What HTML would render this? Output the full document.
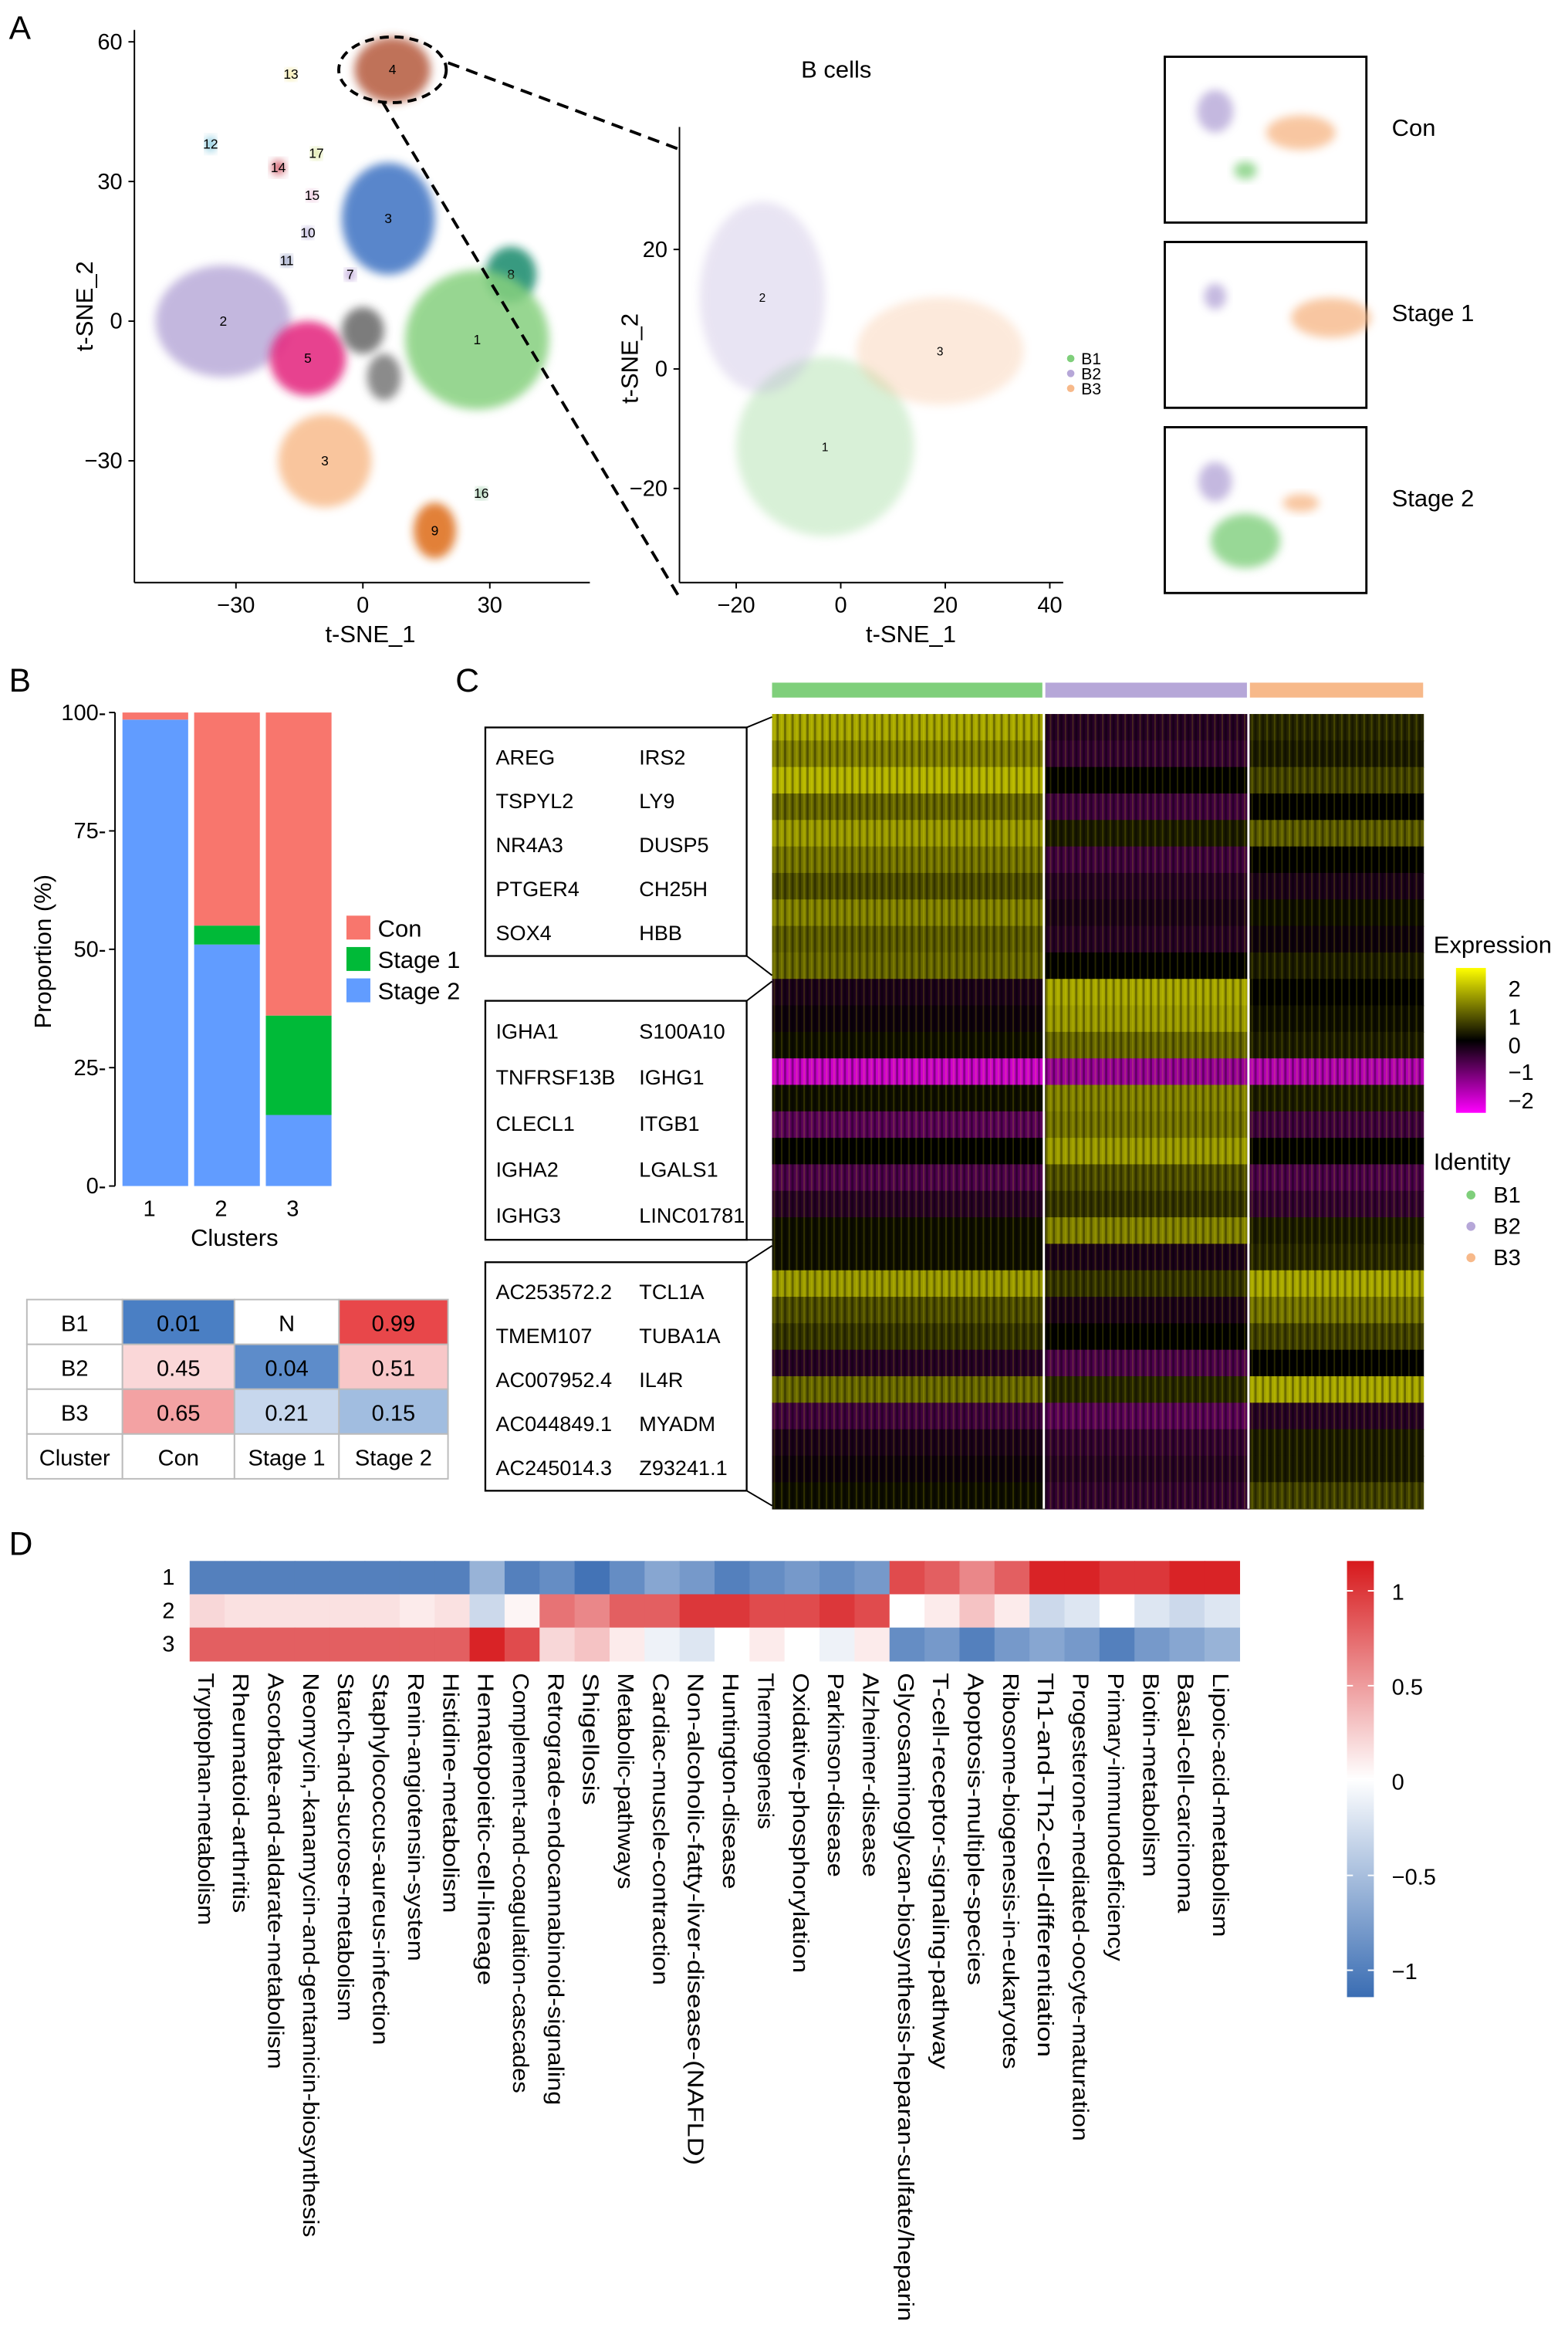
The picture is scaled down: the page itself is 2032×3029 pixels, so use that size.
<!DOCTYPE html>
<html><head><meta charset="utf-8">
<style>
html,body{margin:0;padding:0;background:#fff;}
svg{display:block;font-family:"Liberation Sans",sans-serif;}
</style></head>
<body>
<svg id="fig" width="2032" height="3029" viewBox="0 0 1050 1565.2" xmlns="http://www.w3.org/2000/svg">
<defs>
<filter id="blur" x="-30%" y="-30%" width="160%" height="160%"><feGaussianBlur stdDeviation="3"/></filter>
<pattern id="stripes" width="5" height="10" patternUnits="userSpaceOnUse">
<rect x="0" y="0" width="1.5" height="10" fill="#000" opacity="0.35"/>
<rect x="3" y="0" width="1" height="10" fill="#ff0" opacity="0.15"/>
</pattern>
<linearGradient id="exprGrad" x1="0" y1="0" x2="0" y2="1">
<stop offset="0" stop-color="#ffff00"/><stop offset="0.25" stop-color="#808000"/><stop offset="0.5" stop-color="#000"/><stop offset="0.75" stop-color="#800080"/><stop offset="1" stop-color="#ff00ff"/>
</linearGradient>
<linearGradient id="dGrad" x1="0" y1="0" x2="0" y2="1">
<stop offset="0" stop-color="#d7191c"/><stop offset="0.5" stop-color="#ffffff"/><stop offset="1" stop-color="#3a6db3"/>
</linearGradient>
</defs>
<g id="root"></g>
</svg>
<script>
// ---------- DATA ----------
const clusterIds = ['4','3','8','1','2','5','g1','g2','3b','9','13','12','14','17','15','10','11','7','16'];
const clusterX = [7,6,35,27,-33,-13,0,5,-9,17,-17,-36,-20,-11,-12,-13,-18,-3,28];
const clusterY = [54,22,10,-4,0,-8,-2,-12,-30,-45,53,38,33,36,27,19,13,10,-37];
const clusterLabel = ['4','3','8','1','2','5','','','3','9','13','12','14','17','15','10','11','7','16'];
const clusterColor = ['#b55a3c','#3d72c2','#17896a','#86d07e','#b9abd9','#e3237c','#666666','#777777','#f8bc8c','#dd6a12','#e8d23a','#34a6c9','#c42a3c','#b8cf3a','#d884b6','#7766bb','#2b3d8c','#7c4bb5','#3e9a55'];
const clusterRx = [9,11,6,17,16,9,5,4,11,5,1,1,1.5,1,1,1,1,1,1];
const clusterRy = [7,12,6,15,12,8,5,5,10,6,1,1.5,1.5,1,1,1,1,1,1];
const bNames = ['B1','B2','B3'];
const bX = [-3,-15,19];
const bY = [-13,12,3];
const bRx = [17,12,16];
const bRy = [15,16,9];
const bColor = ['#7fcf7b','#b6a7d8','#f7b98a'];
const barCats = ['1','2','3'];
const stage2Vals = [98.5,51,15];
const stage1Vals = [0,4,21];
const conVals = [1.5,45,64];
const tableRows = ['B1','B2','B3'];
const tableCols = ['Con','Stage 1','Stage 2'];
const tableVals = [[0.01,null,0.99],[0.45,0.04,0.51],[0.65,0.21,0.15]];
const cB1 = [1.3,1.0,1.4,0.8,1.2,0.9,0.6,1.0,0.7,0.8,-0.2,-0.1,0.1,-1.6,0.1,-0.7,0,-0.6,-0.3,0.1,0.1,1.2,0.6,0.4,-0.3,0.8,-0.5,-0.2,-0.1,0.1];
const cB2 = [-0.3,-0.4,0,-0.5,0.2,-0.5,-0.3,-0.2,-0.3,0,1.3,1.2,0.8,-1.2,1,0.9,1.2,0.6,0.4,1.0,-0.2,0.4,-0.2,0,-0.6,0.3,-0.7,-0.4,-0.3,-0.4];
const cB3 = [0.3,0.2,0.5,0,0.7,0,-0.2,0.1,-0.1,0.2,0,0.1,0.2,-1.4,0.2,-0.5,0,-0.6,-0.4,0.2,0.3,1.3,0.9,0.5,0,1.3,-0.3,0.2,0.2,0.5];
const geneBoxes = [
 [['AREG','IRS2'],['TSPYL2','LY9'],['NR4A3','DUSP5'],['PTGER4','CH25H'],['SOX4','HBB']],
 [['IGHA1','S100A10'],['TNFRSF13B','IGHG1'],['CLECL1','ITGB1'],['IGHA2','LGALS1'],['IGHG3','LINC01781']],
 [['AC253572.2','TCL1A'],['TMEM107','TUBA1A'],['AC007952.4','IL4R'],['AC044849.1','MYADM'],['AC245014.3','Z93241.1']]
];
const pathways = ['Tryptophan-metabolism','Rheumatoid-arthritis','Ascorbate-and-aldarate-metabolism','Neomycin,-kanamycin-and-gentamicin-biosynthesis','Starch-and-sucrose-metabolism','Staphylococcus-aureus-infection','Renin-angiotensin-system','Histidine-metabolism','Hematopoietic-cell-lineage','Complement-and-coagulation-cascades','Retrograde-endocannabinoid-signaling','Shigellosis','Metabolic-pathways','Cardiac-muscle-contraction','Non-alcoholic-fatty-liver-disease-(NAFLD)','Huntington-disease','Thermogenesis','Oxidative-phosphorylation','Parkinson-disease','Alzheimer-disease','Glycosaminoglycan-biosynthesis-heparan-sulfate/heparin','T-cell-receptor-signaling-pathway','Apoptosis-multiple-species','Ribosome-biogenesis-in-eukaryotes','Th1-and-Th2-cell-differentiation','Progesterone-mediated-oocyte-maturation','Primary-immunodeficiency','Biotin-metabolism','Basal-cell-carcinoma','Lipoic-acid-metabolism'];
const dRow1 = [-1,-1,-1,-1,-1,-1,-1,-1,-0.6,-1,-0.9,-1.1,-0.9,-0.7,-0.8,-1,-0.9,-0.8,-0.9,-0.8,0.9,0.8,0.6,0.8,1.1,1.1,1,1,1.1,1.1];
const dRow2 = [0.2,0.15,0.15,0.15,0.15,0.15,0.1,0.15,-0.3,0.05,0.7,0.6,0.8,0.8,1,1,0.9,0.9,1,0.9,0,0.1,0.3,0.1,-0.3,-0.2,0,-0.2,-0.3,-0.2];
const dRow3 = [0.8,0.8,0.8,0.8,0.8,0.8,0.8,0.8,1.1,0.9,0.2,0.3,0.1,-0.1,-0.2,0,0.1,0,-0.1,0.1,-0.9,-0.8,-1,-0.8,-0.7,-0.8,-1,-0.8,-0.7,-0.6];
const dTicks = [1,0.5,0,-0.5,-1];

// ---------- HELPERS ----------
const NS='http://www.w3.org/2000/svg';
const root=document.getElementById('root');
function mk(tag,attrs,parent,text){const e=document.createElementNS(NS,tag);for(const k in attrs)e.setAttribute(k,attrs[k]);if(text!==undefined)e.textContent=text;(parent||root).appendChild(e);return e;}
function txt(x,y,s,size,anchor,parent,extra){return mk('text',Object.assign({x:x,y:y,'font-size':size,'text-anchor':anchor||'start',fill:'#000'},extra||{}),parent,s);}
function lerp(a,b,t){return a+(b-a)*t;}
function mixHex(c1,c2,t){t=Math.max(0,Math.min(1,t));const p=h=>[1,3,5].map(i=>parseInt(h.substr(i,2),16));const a=p(c1),b=p(c2);return 'rgb('+a.map((v,i)=>Math.round(lerp(v,b[i],t))).join(',')+')';}
function exprColor(v){v=Math.max(-2,Math.min(2,v));if(v>=1)return mixHex('#808000','#ffff00',v-1);if(v>=0)return mixHex('#000000','#808000',v);if(v>=-1)return mixHex('#000000','#800080',-v);return mixHex('#800080','#ff00ff',-v-1);}
function divColor(v){v=Math.max(-1.15,Math.min(1.15,v))/1.15;return v>=0?mixHex('#ffffff','#d7191c',v):mixHex('#ffffff','#3a6db3',-v);}

// ---------- PANEL A ----------
let g=mk('g',{},root);
txt(6,26,'A',22,'start',g);
const ax=v=>lerp(158,328,(v+30)/60), ay=v=>lerp(215,28,v/60);
mk('line',{x1:90,y1:20,x2:90,y2:390,stroke:'#000','stroke-width':1},g);
mk('line',{x1:90,y1:390,x2:395,y2:390,stroke:'#000','stroke-width':1},g);
[60,30,0,-30].forEach(v=>{mk('line',{x1:86,y1:ay(v),x2:90,y2:ay(v),stroke:'#000'},g);txt(82,ay(v)+5,v===-30?'\u221230':String(v),15,'end',g);});
[-30,0,30].forEach(v=>{mk('line',{x1:ax(v),y1:390,x2:ax(v),y2:394,stroke:'#000'},g);txt(ax(v),410,v===-30?'\u221230':String(v),15,'middle',g);});
txt(248,430,'t-SNE_1',16,'middle',g);
txt(62,205,'t-SNE_2',16,'middle',g,{transform:'rotate(-90 62 205)'});
const sx=(ax(30)-ax(0))/30, sy=(ay(0)-ay(30))/30;
clusterIds.forEach((id,i)=>{
 const e=mk('ellipse',{cx:ax(clusterX[i]),cy:ay(clusterY[i]),rx:clusterRx[i]*sx,ry:clusterRy[i]*sy,fill:clusterColor[i],opacity:0.85,filter:'url(#blur)'},g);
 
 
 if(clusterLabel[i])txt(ax(clusterX[i]),ay(clusterY[i])+3,clusterLabel[i],9,'middle',g);
});
mk('ellipse',{cx:ax(7),cy:ay(54),rx:36,ry:22,fill:'none',stroke:'#000','stroke-width':2,'stroke-dasharray':'6 4'},g);
mk('line',{x1:300,y1:42,x2:455,y2:100,stroke:'#000','stroke-width':2,'stroke-dasharray':'8 5'},g);
mk('line',{x1:256,y1:68,x2:455,y2:400,stroke:'#000','stroke-width':2,'stroke-dasharray':'8 5'},g);
const bx=v=>lerp(563,633,v/20), by=v=>lerp(247,167,v/20);
txt(560,52,'B cells',16,'middle',g);
mk('line',{x1:455,y1:85,x2:455,y2:390,stroke:'#000'},g);
mk('line',{x1:455,y1:390,x2:712,y2:390,stroke:'#000'},g);
[20,0,-20].forEach(v=>{mk('line',{x1:451,y1:by(v),x2:455,y2:by(v),stroke:'#000'},g);txt(447,by(v)+5,v<0?'\u221220':String(v),15,'end',g);});
[-20,0,20,40].forEach(v=>{mk('line',{x1:bx(v),y1:390,x2:bx(v),y2:394,stroke:'#000'},g);txt(bx(v),410,v<0?'\u221220':String(v),15,'middle',g);});
txt(610,430,'t-SNE_1',16,'middle',g);
txt(427,240,'t-SNE_2',16,'middle',g,{transform:'rotate(-90 427 240)'});
const bsx=(bx(20)-bx(0))/20, bsy=(by(0)-by(20))/20;
bNames.forEach((n,i)=>{
 const e=mk('ellipse',{cx:bx(bX[i]),cy:by(bY[i]),rx:bRx[i]*bsx,ry:bRy[i]*bsy,fill:bColor[i],opacity:0.3,filter:'url(#blur)'},g);
 
 
 txt(bx(bX[i]),by(bY[i])+3,String(i+1),8,'middle',g);
 mk('circle',{cx:717,cy:240+i*10,r:2.5,fill:bColor[i]},g);
 txt(724,244+i*10,n,11,'start',g);
});
const condNames=['Con','Stage 1','Stage 2'];
const condBoxY=[38,162,286];
const condB1=[0.02,0,0.6],condB2=[0.3,0.08,0.25],condB3=[0.68,0.92,0.15];
condNames.forEach((c,i)=>{
 const r=mk('rect',{x:780,y:condBoxY[i],width:135,height:111,fill:'#fff',stroke:'#000','stroke-width':1.5},g);
 
 
 const bxx=v=>lerp(780,915,(v+35)/80), byy=v=>lerp(condBoxY[i]+111,condBoxY[i],(v+35)/70);
 bNames.forEach((n,k)=>{
   const w=[condB1,condB2,condB3][k][i];
   if(w<=0)return;
   const rx=bRx[k]*1.7*Math.sqrt(w+0.05),ry=bRy[k]*1.5*Math.sqrt(w+0.05);
   mk('ellipse',{cx:bxx(bX[k]+(k===2&&i===1?12:0)),cy:byy(bY[k]),rx:rx,ry:ry,fill:bColor[k],opacity:0.8,filter:'url(#blur)'},g);
 });
 txt(932,condBoxY[i]+53,c,16,'start',g);
});

// ---------- PANEL B ----------
g=mk('g',{},root);
txt(6,463,'B',22,'start',g);
const py=v=>lerp(794,477,v/100);
const barX=[82,130,178],barW=44;
mk('line',{x1:77,y1:477,x2:77,y2:794,stroke:'#000'},g);
[100,75,50,25,0].forEach(v=>{mk('line',{x1:73,y1:py(v),x2:77,y2:py(v),stroke:'#000'},g);txt(71,py(v)+5,v+'-',15,'end',g);});
barCats.forEach((c,i)=>{
 let base=0;
 [[stage2Vals,'#619cff','stage-2'],[stage1Vals,'#00ba38','stage-1'],[conVals,'#f8766d','con']].forEach(s=>{
  const v=s[0][i];
  const r=mk('rect',{x:barX[i],y:py(base+v),width:barW,height:py(base)-py(base+v),fill:s[1]},g);
  
  
  base+=v;
 });
 txt(barX[i]+barW/2-4,814,c,15,'middle',g);
});
txt(157,834,'Clusters',16,'middle',g);
txt(34,637,'Proportion (%)',16,'middle',g,{transform:'rotate(-90 34 637)'});
[['Con','#f8766d'],['Stage 1','#00ba38'],['Stage 2','#619cff']].forEach((l,i)=>{
 const r=mk('rect',{x:232,y:613+i*21,width:16,height:16,fill:l[1]},g);
 
 
 txt(253,627+i*21,l[0],16,'start',g);
});
const colX=[18,82,157,227,300];
function tCol(v){if(v===null)return '#ffffff';return v>=0.3?mixHex('#ffffff','#e8474a',(v-0.3)/0.69):mixHex('#ffffff','#4a7fc4',(0.3-v)/0.29);}
tableRows.forEach((rname,ri)=>{
 const y=870+ri*30;
 mk('rect',{x:18,y:y,width:64,height:30,fill:'#fff',stroke:'#bbb'},g);
 txt(50,y+21,rname,15,'middle',g);
 tableVals[ri].forEach((v,ci)=>{
  const r=mk('rect',{x:colX[ci+1],y:y,width:colX[ci+2]-colX[ci+1],height:30,fill:tCol(v),stroke:'#bbb'},g);
  
  
  txt((colX[ci+1]+colX[ci+2])/2,y+21,v===null?'N':v.toFixed(2),15,'middle',g);
 });
});
mk('rect',{x:18,y:960,width:64,height:30,fill:'#fff',stroke:'#bbb'},g);
txt(50,981,'Cluster',15,'middle',g);
tableCols.forEach((c,ci)=>{mk('rect',{x:colX[ci+1],y:960,width:colX[ci+2]-colX[ci+1],height:30,fill:'#fff',stroke:'#bbb'},g);txt((colX[ci+1]+colX[ci+2])/2,981,c,15,'middle',g);});

// ---------- PANEL C ----------
g=mk('g',{},root);
txt(305,463,'C',22,'start',g);
const grpX=[517,700,837,953];
bColor.forEach((c,i)=>{const r=mk('rect',{x:grpX[i],y:457,width:grpX[i+1]-grpX[i]-(i<2?2:0),height:10,fill:c},g);});
const hTop=478,hBot=1010,rowH=(hBot-hTop)/cB1.length;
cB1.forEach((v,ri)=>{
 [cB1,cB2,cB3].forEach((arr,gi)=>{
  const r=mk('rect',{x:grpX[gi],y:hTop+ri*rowH,width:grpX[gi+1]-grpX[gi]+0.5,height:rowH+0.5,fill:exprColor(arr[ri])},g);
  
  
 });
});
mk('rect',{x:517,y:hTop,width:436,height:hBot-hTop,fill:'url(#stripes)'},g);
mk('line',{x1:699,y1:hTop,x2:699,y2:hBot,stroke:'#fff','stroke-width':1.5},g);
mk('line',{x1:836,y1:hTop,x2:836,y2:hBot,stroke:'#fff','stroke-width':1.5},g);
const boxY=[[487,640],[670,830],[845,998]];
const blkY=[[478,655],[655,832],[832,1010]];
geneBoxes.forEach((b,bi)=>{
 const r=mk('rect',{x:325,y:boxY[bi][0],width:175,height:boxY[bi][1]-boxY[bi][0],fill:'#fff',stroke:'#000','stroke-width':1.2},g);
 
 
 mk('polyline',{points:`500,${boxY[bi][0]} 517,${blkY[bi][0]+2}`,fill:'none',stroke:'#000'},g);
 mk('polyline',{points:`500,${boxY[bi][1]} 517,${blkY[bi][1]-2}`,fill:'none',stroke:'#000'},g);
 const step=(boxY[bi][1]-boxY[bi][0])/5.2;
 b.forEach((pr,k)=>{const y=boxY[bi][0]+step*(k+0.5)+10;txt(332,y,pr[0],14,'start',g);txt(428,y,pr[1],14,'start',g);});
});
txt(960,638,'Expression',16,'start',g);
mk('rect',{x:975,y:648,width:20,height:97,fill:'url(#exprGrad)'},g);
[['2',662],['1',681],['0',700],['\u22121',718],['\u22122',737]].forEach(t=>{txt(1010,t[1]+5,t[0],15,'start',g);});
txt(960,783,'Identity',16,'start',g);
bNames.forEach((n,i)=>{mk('circle',{cx:985,cy:800+i*21,r:3,fill:bColor[i]},g);txt(1000,805+i*21,n,15,'start',g);});

// ---------- PANEL D ----------
g=mk('g',{},root);
txt(6,1041,'D',22,'start',g);
const dx0=127,dx1=830,cw=(dx1-dx0)/pathways.length,dTop=1045,rh=22.3;
[dRow1,dRow2,dRow3].forEach((row,ri)=>{
 txt(117,dTop+ri*rh+16,String(ri+1),15,'end',g);
 row.forEach((v,ci)=>{
  const r=mk('rect',{x:dx0+ci*cw,y:dTop+ri*rh,width:cw+0.4,height:rh+0.4,fill:divColor(v)},g);
  
  
 });
});
pathways.forEach((p,ci)=>{
 const x=dx0+(ci+0.5)*cw-6, y=1120;
 txt(x,y,p,15,'start',g,{transform:`rotate(90 ${x} ${y})`,textLength:(p.length*7.05*1.14).toFixed(1),lengthAdjust:'spacingAndGlyphs'});
});
const lg=mk('rect',{x:902,y:1045,width:18,height:292,fill:'url(#dGrad)'},g);


const dly=v=>lerp(1192,1065,v);
dTicks.forEach(v=>{mk('line',{x1:902,y1:dly(v),x2:906,y2:dly(v),stroke:'#fff'},g);mk('line',{x1:916,y1:dly(v),x2:920,y2:dly(v),stroke:'#fff'},g);txt(932,dly(v)+6,(v<0?'\u2212':'')+Math.abs(v),15,'start',g);});
</script>
</body></html>
